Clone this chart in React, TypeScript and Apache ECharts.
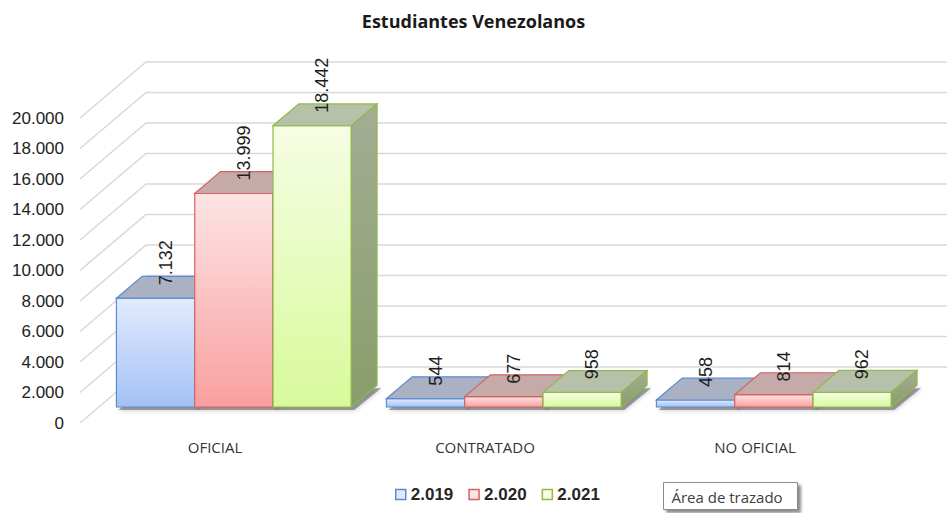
import React, { useEffect, useRef } from "react";
import * as echarts from "echarts";

// ---------- data ----------
const categories = ["OFICIAL", "CONTRATADO", "NO OFICIAL"];
const seriesNames = ["2.019", "2.020", "2.021"];
const values2019 = [7132, 544, 458];
const values2020 = [13999, 677, 814];
const values2021 = [18442, 958, 962];
const yTicks = [0, 2000, 4000, 6000, 8000, 10000, 12000, 14000, 16000, 18000, 20000];
const Y_MAX = 20000;
const Y_INTERVAL = 2000;

// ---------- style ----------
const DEPTH_DX = 66; // full depth of the 3D box (px)
const DEPTH_DY = -56;
const FRONT_F = 0.286; // bars' front plane as fraction of depth
const BAR_DEPTH_F = 0.39; // bars' depth as fraction of depth
const BAR_FRAC = 0.29; // each bar width as fraction of category width
const LABEL_DX = 10;
const LABEL_DY = 13;

const palette = [
  { front: ["#e1ebfd", "#a3c1f6"], top: "#a9b1c3", side: ["#9ea8ba", "#8894aa"], border: "#5b8bd3" },
  { front: ["#fde4e4", "#f99f9f"], top: "#c6aaaa", side: ["#b49999", "#a08383"], border: "#d6625f" },
  { front: ["#f6fde4", "#d8fa9b"], top: "#b7c0a8", side: ["#a4ad94", "#889d6b"], border: "#8fba4c" },
];

const fmt = (v: number) => String(v).replace(/\B(?=(\d{3})+(?!\d))/g, ".");

function makeBarRender(si: number) {
  return (params: any, api: any) => {
    const j = api.value(0);
    const v = api.value(1);
    const p0 = api.coord([j, 0]);
    const pv = api.coord([j, v]);
    const catW = api.size([1, 0])[0];
    const bw = catW * BAR_FRAC;
    const fdx = DEPTH_DX * FRONT_F;
    const fdy = DEPTH_DY * FRONT_F;
    const ddx = DEPTH_DX * BAR_DEPTH_F;
    const ddy = DEPTH_DY * BAR_DEPTH_F;
    const xl = p0[0] - 1.5 * bw + si * bw + fdx;
    const xr = xl + bw;
    const yb = p0[1] + fdy;
    const yt = pv[1] + fdy;
    const c = palette[si];
    const lw = 1.2;
    return {
      type: "group",
      children: [
        {
          type: "polygon",
          z2: 0,
          shape: {
            points: [
              [xl + 2, yb + 3],
              [xr + 3, yb + 3],
              [xr + ddx + 4, yb + ddy + 3],
              [xl + ddx + 2, yb + ddy + 3],
            ],
          },
          style: {
            fill: "rgba(90,90,90,0.55)",
            shadowBlur: 5,
            shadowColor: "rgba(0,0,0,0.45)",
          },
        },
        {
          type: "rect",
          z2: 10,
          shape: { x: xl, y: yt, width: bw, height: yb - yt },
          style: {
            fill: new echarts.graphic.LinearGradient(0, 0, 0, 1, [
              { offset: 0, color: c.front[0] },
              { offset: 1, color: c.front[1] },
            ]),
            stroke: c.border,
            lineWidth: lw,
          },
        },
        {
          type: "polygon",
          z2: 10,
          shape: {
            points: [
              [xl, yt],
              [xr, yt],
              [xr + ddx, yt + ddy],
              [xl + ddx, yt + ddy],
            ],
          },
          style: { fill: c.top, stroke: c.border, lineWidth: lw },
        },
        {
          type: "polygon",
          z2: 10,
          shape: {
            points: [
              [xr, yt],
              [xr + ddx, yt + ddy],
              [xr + ddx, yb + ddy],
              [xr, yb],
            ],
          },
          style: {
            fill: new echarts.graphic.LinearGradient(0, 0, 0, 1, [
              { offset: 0, color: c.side[0] },
              { offset: 1, color: c.side[1] },
            ]),
            stroke: c.border,
            lineWidth: lw,
          },
        },
        {
          type: "text",
          z2: 100,
          x: xl + bw / 2 + LABEL_DX,
          y: yt - LABEL_DY,
          rotation: Math.PI / 2,
          style: {
            text: fmt(v),
            fill: "#1e1e1e",
            font: '18px "Liberation Sans", Arial, sans-serif',
            textAlign: "left",
            textVerticalAlign: "middle",
            align: "left",
            verticalAlign: "middle",
          },
        },
      ],
    };
  };
}

const renderGridLine = (params: any, api: any) => {
  const v = api.value(1);
  const p = api.coord([0, v]);
  const gx = params.coordSys.x;
  const y = p[1];
  const W = api.getWidth();
  return {
    type: "polyline",
    shape: {
      points: [
        [gx, y],
        [gx + DEPTH_DX, y + DEPTH_DY],
        [W, y + DEPTH_DY],
      ],
    },
    style: { stroke: "#d9d9d9", lineWidth: 1.6, fill: "none" },
  };
};

export default function App() {
  const ref = useRef<HTMLDivElement>(null);
  useEffect(() => {
    if (!ref.current) return;
    const chart = echarts.init(ref.current, undefined, { renderer: "svg" });
    const seriesValues = [values2019, values2020, values2021];
    const option: any = {
      animation: false,
      backgroundColor: "#ffffff",
      title: {
        text: "Estudiantes Venezolanos",
        left: "center",
        top: 7,
        textStyle: {
          fontFamily: '"Open Sans", sans-serif',
          fontWeight: "bold",
          fontSize: 18,
          color: "#1a1a1a",
        },
      },
      grid: { left: 80, top: 118, width: 810, height: 305, containLabel: false },
      xAxis: {
        type: "category",
        data: categories,
        axisLine: { show: false },
        axisTick: { show: false },
        axisLabel: {
          margin: 16,
          fontFamily: '"Open Sans", sans-serif',
          fontSize: 15,
          color: "#333333",
        },
        splitLine: { show: false },
      },
      yAxis: {
        type: "value",
        min: 0,
        max: Y_MAX,
        interval: Y_INTERVAL,
        axisLine: { show: false },
        axisTick: { show: false },
        splitLine: { show: false },
        axisLabel: {
          margin: 16,
          fontFamily: '"Liberation Sans", Arial, sans-serif',
          fontSize: 17,
          color: "#222222",
          formatter: (v: number) => fmt(v),
        },
      },
      legend: {
        left: 390,
        top: 481,
        itemWidth: 10,
        itemHeight: 10,
        itemGap: 15,
        icon: "rect",
        textStyle: {
          fontFamily: '"Liberation Sans", Arial, sans-serif',
          fontWeight: "bold",
          fontSize: 17,
          color: "#262626",
        },
        data: seriesNames.map((n, i) => ({
          name: n,
          itemStyle: { color: palette[i].front[0], borderColor: palette[i].border, borderWidth: 1.5 },
        })),
      },
      series: [
        {
          type: "custom",
          name: "grid3d",
          z: 1,
          silent: true,
          clip: false,
          renderItem: renderGridLine,
          encode: { x: 0, y: 1 },
          data: yTicks.map((t) => [0, t]),
        },
        ...seriesValues.map((vals, si) => ({
          type: "custom",
          name: seriesNames[si],
          z: 2,
          clip: false,
          itemStyle: { color: palette[si].front[1], borderColor: palette[si].border },
          renderItem: makeBarRender(si),
          encode: { x: 0, y: 1 },
          data: vals.map((v, j) => [j, v]),
        })),
      ],
      graphic: [
        {
          type: "group",
          left: 663,
          top: 482,
          children: [
            {
              type: "rect",
              shape: { x: 0, y: 0, width: 134, height: 27 },
              style: {
                fill: "#ffffff",
                stroke: "#8a8a8a",
                lineWidth: 1,
                shadowBlur: 3,
                shadowOffsetX: 3,
                shadowOffsetY: 3,
                shadowColor: "rgba(0,0,0,0.45)",
              },
            },
            {
              type: "text",
              x: 8,
              y: 14,
              style: {
                text: "Área de trazado",
                fill: "#404040",
                font: '15px "Open Sans", sans-serif',
                textVerticalAlign: "middle",
                verticalAlign: "middle",
              },
            },
          ],
        },
      ],
    };
    chart.setOption(option);
    return () => chart.dispose();
  }, []);
  return (
    <div
      ref={ref}
      style={{ position: "absolute", left: 0, top: 0, width: 947, height: 513 }}
    />
  );
}
